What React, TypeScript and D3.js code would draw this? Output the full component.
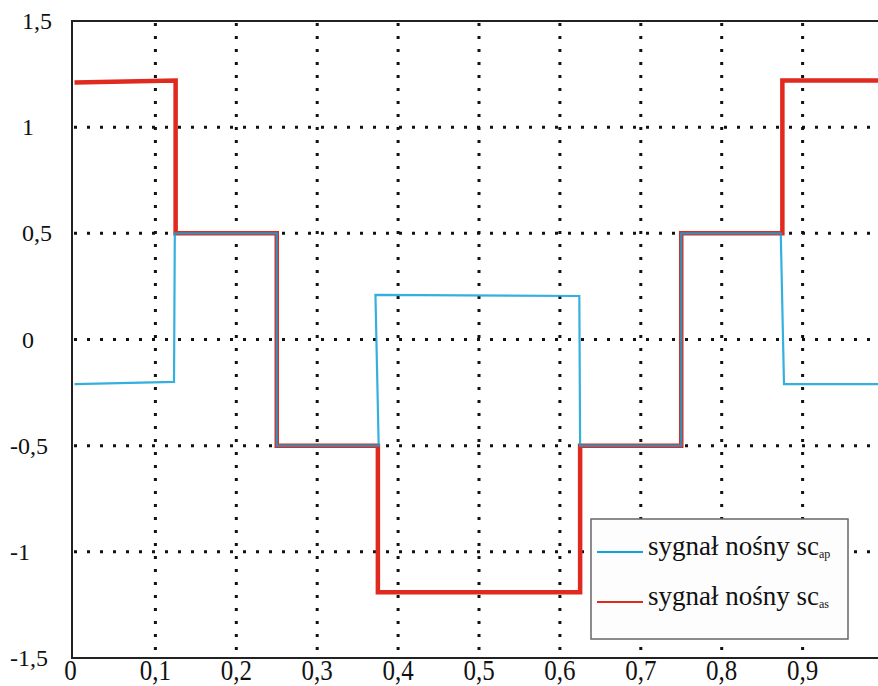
import React from 'react';
import { scaleLinear, line } from 'd3';

// x ticks and labels
const xTickValues = [0, 0.1, 0.2, 0.3, 0.4, 0.5, 0.6, 0.7, 0.8, 0.9];
const xTickLabels = ['0', '0,1', '0,2', '0,3', '0,4', '0,5', '0,6', '0,7', '0,8', '0,9'];
const xGridValues = [0.1, 0.2, 0.3, 0.4, 0.5, 0.6, 0.7, 0.8, 0.9, 1.0];

// y ticks and labels
const yTickValues = [1.5, 1, 0.5, 0, -0.5, -1, -1.5];
const yTickLabels = ['1,5', '1', '0,5', '0', '-0,5', '-1', '-1,5'];
const yGridValues = [1, 0.5, 0, -0.5, -1];

// sygnał nośny sc_as (red)
const asX = [0, 0.125, 0.125, 0.25, 0.25, 0.375, 0.375, 0.625, 0.625, 0.75, 0.75, 0.875, 0.875, 1];
const asY = [1.21, 1.22, 0.5, 0.5, -0.5, -0.5, -1.19, -1.19, -0.5, -0.5, 0.5, 0.5, 1.22, 1.22];

// sygnał nośny sc_ap (blue)
const apX = [0, 0.123, 0.124, 0.25, 0.25, 0.376, 0.372, 0.624, 0.625, 0.75, 0.75, 0.873, 0.877, 1];
const apY = [-0.21, -0.2, 0.5, 0.5, -0.5, -0.5, 0.21, 0.205, -0.5, -0.5, 0.5, 0.5, -0.21, -0.21];

const legendNames = ['sygnał nośny sc', 'sygnał nośny sc'];
const legendSubs = ['ap', 'as'];

const RED = '#e0291f';
const BLUE = '#12a2d8';

export default function App() {
  const width = 878;
  const height = 686;
  const left = 72;
  const top = 21;
  const bottom = 658;

  const x = scaleLinear().domain([0, 1]).range([74.5, 883.5]);
  const y = scaleLinear().domain([-1.5, 1.5]).range([bottom, top]);

  const lineF = line<[number, number]>()
    .x(d => x(d[0]))
    .y(d => y(d[1]));

  const asPts = asX.map((v, i) => [v, asY[i]] as [number, number]);
  const apPts = apX.map((v, i) => [v, apY[i]] as [number, number]);

  const serif = { fontFamily: "'Liberation Serif', Tinos, 'Times New Roman', 'DejaVu Serif', serif" };
  const colors = [BLUE, RED];

  return (
    <svg width={width} height={height} style={{ position: 'absolute', left: 0, top: 0, background: '#fff' }}>
      {/* dotted grid */}
      <g>
        {xGridValues.map(v => (
          <line key={'gx' + v} x1={x(v)} x2={x(v)} y1={top + 2} y2={bottom}
            stroke="#111" strokeWidth={3} strokeDasharray="3 10" />
        ))}
        {yGridValues.map(v => (
          <line key={'gy' + v} x1={left + 2} x2={width} y1={y(v)} y2={y(v)}
            stroke="#111" strokeWidth={3} strokeDasharray="3 10" />
        ))}
      </g>

      {/* frame */}
      <line x1={left} x2={width} y1={top} y2={top} stroke="#222" strokeWidth={2} />
      <line x1={left} x2={width} y1={bottom} y2={bottom} stroke="#222" strokeWidth={2} />
      <line x1={left} x2={left} y1={top - 1} y2={bottom + 1} stroke="#222" strokeWidth={2} />

      {/* series */}
      <path d={lineF(asPts) || ''} fill="none" stroke={RED} strokeWidth={4.5} strokeLinejoin="miter" />
      <path d={lineF(apPts) || ''} fill="none" stroke={BLUE} strokeWidth={2.2} strokeOpacity={0.85} strokeLinejoin="miter" />

      {/* y labels */}
      {yTickValues.map((v, i) => (
        <text key={'yl' + v} x={v < 0 ? 10 : 22} y={y(v) + 8} style={serif} fontSize={24} fill="#111">
          {yTickLabels[i]}
        </text>
      ))}

      {/* x labels */}
      {xTickValues.map((v, i) => (
        <text key={'xl' + v} transform={`translate(${x(v) + (v === 0 ? -4 : 0)},680) scale(1,1.2)`}
          textAnchor="middle" style={serif} fontSize={25} fill="#111">
          {xTickLabels[i]}
        </text>
      ))}

      {/* legend */}
      <g>
        <rect x={591} y={519} width={257} height={120} fill="#fdfdfd" stroke="#666" strokeWidth={1.5} />
        {legendNames.map((name, i) => (
          <g key={'lg' + i} transform={`translate(0,${i * 50})`}>
            <line x1={597} x2={643} y1={552} y2={552} stroke={colors[i]} strokeWidth={2} />
            <text x={648} y={555} style={serif} fontSize={27} fill="#111">
              {name}
              <tspan fontSize={12} dy={3}>{legendSubs[i]}</tspan>
            </text>
          </g>
        ))}
      </g>
    </svg>
  );
}
